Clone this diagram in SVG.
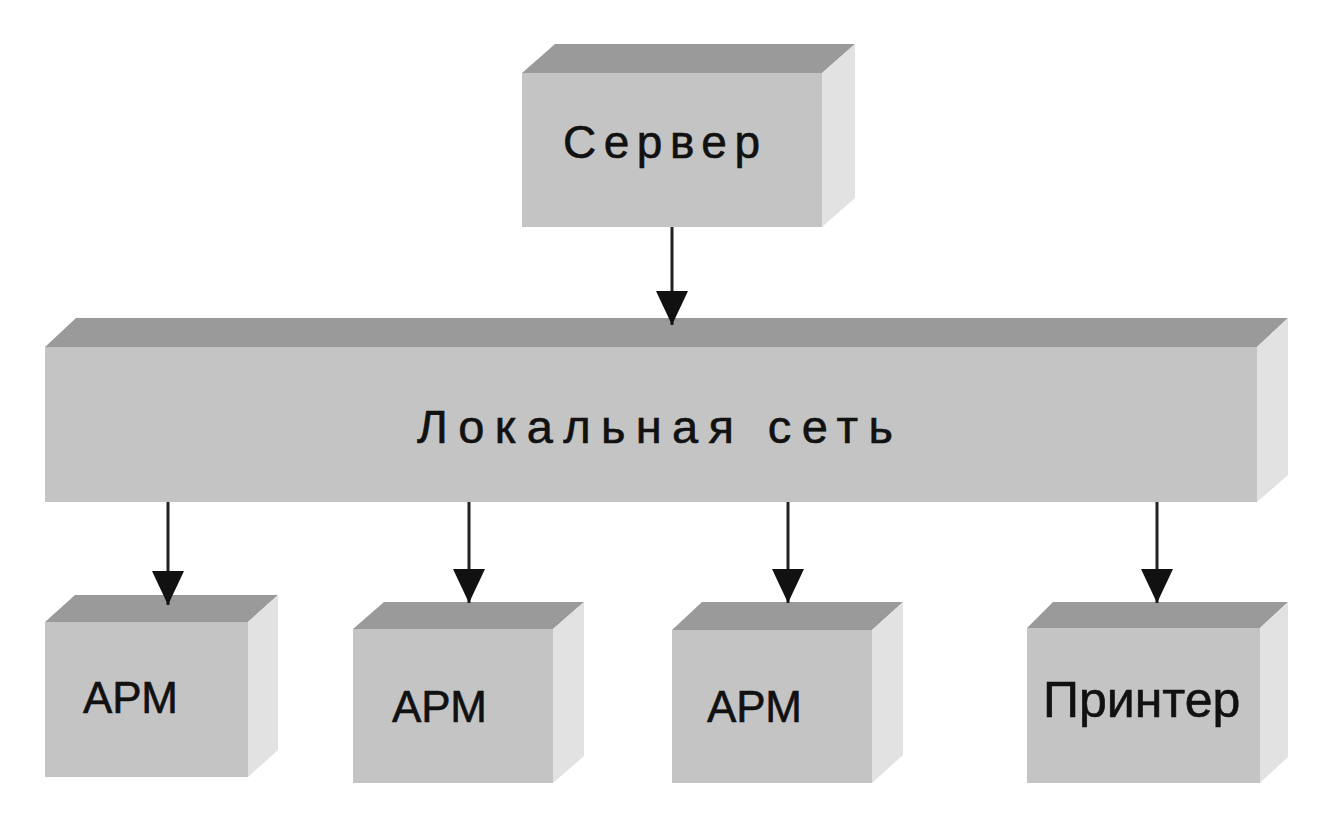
<svg xmlns="http://www.w3.org/2000/svg" width="1325" height="829" viewBox="0 0 1325 829">
  <defs>
    <marker id="arrow" viewBox="0 0 34 32" refX="34" refY="16" markerWidth="34" markerHeight="32" markerUnits="userSpaceOnUse" orient="auto">
      <path d="M0,0 L34,16 L0,32 Z" fill="#111"/>
    </marker>
  </defs>
  <style>
    .front { fill: #c4c4c4; }
    .top { fill: #9a9a9a; }
    .side { fill: #e2e2e2; }
    .lbl { font-family: "Liberation Sans", Arial, sans-serif; fill: #111; stroke: #111; stroke-width: 0.6; }
    .conn { stroke: #222; stroke-width: 3; fill: none; marker-end: url(#arrow); }
  </style>
  <rect x="0" y="0" width="1325" height="829" fill="#ffffff"/>

  <g id="server">
    <rect class="front" x="522" y="73" width="300" height="154"/>
    <polygon class="top" points="522,73 555,44 855,44 822,73"/>
    <polygon class="side" points="822,73 855,44 855,198 822,227"/>
    <text class="lbl" x="563" y="158" font-size="46" textLength="197" lengthAdjust="spacing">Сервер</text>
  </g>

  <g id="network">
    <rect class="front" x="45" y="347" width="1212" height="155"/>
    <polygon class="top" points="45,347 76,318 1288,318 1257,347"/>
    <polygon class="side" points="1257,347 1288,318 1288,475 1257,502"/>
    <text class="lbl" x="417" y="443" font-size="47" textLength="476" lengthAdjust="spacing">Локальная сеть</text>
  </g>

  <g id="arm1">
    <rect class="front" x="45" y="622" width="203" height="155"/>
    <polygon class="top" points="45,622 75,595 278,595 248,622"/>
    <polygon class="side" points="248,622 278,595 278,750 248,777"/>
    <text class="lbl" x="83" y="713" font-size="44">АРМ</text>
  </g>

  <g id="arm2">
    <rect class="front" x="353" y="629" width="200" height="154"/>
    <polygon class="top" points="353,629 384,602 584,602 553,629"/>
    <polygon class="side" points="553,629 584,602 584,756 553,783"/>
    <text class="lbl" x="392" y="722" font-size="44">АРМ</text>
  </g>

  <g id="arm3">
    <rect class="front" x="672" y="630" width="200" height="153"/>
    <polygon class="top" points="672,630 702,602 903,602 872,630"/>
    <polygon class="side" points="872,630 903,602 903,755 872,783"/>
    <text class="lbl" x="707" y="722" font-size="44">АРМ</text>
  </g>

  <g id="printer">
    <rect class="front" x="1027" y="628" width="233" height="155"/>
    <polygon class="top" points="1027,628 1053,602 1288,602 1260,628"/>
    <polygon class="side" points="1260,628 1288,602 1288,757 1260,783"/>
    <text class="lbl" x="1043" y="717" font-size="50">Принтер</text>
  </g>

  <g id="connectors">
    <line class="conn" x1="672" y1="227" x2="672" y2="325"/>
    <line class="conn" x1="168" y1="502" x2="168" y2="605"/>
    <line class="conn" x1="469" y1="502" x2="469" y2="603"/>
    <line class="conn" x1="788" y1="502" x2="788" y2="603"/>
    <line class="conn" x1="1157" y1="502" x2="1157" y2="603"/>
  </g>
</svg>
